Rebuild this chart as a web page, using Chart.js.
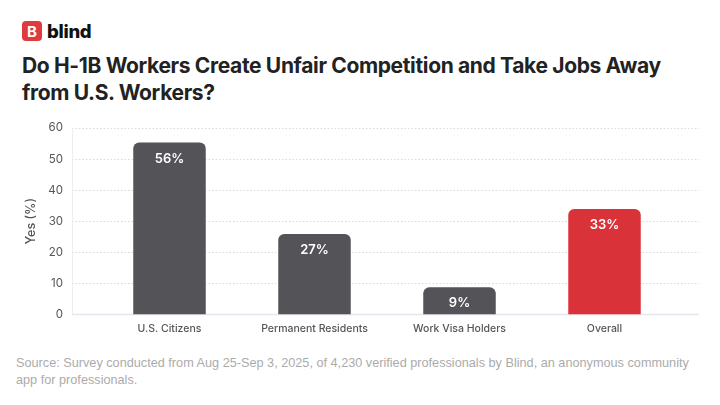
<!DOCTYPE html>
<html lang="en">
<head>
<meta charset="UTF-8">
<title>H-1B survey</title>
<style>
    body { margin: 0; background: #fff; width: 720px; height: 405px; overflow: hidden; position: relative; font-family: Inter, "Noto Sans", sans-serif; }
    .logo { position: absolute; left: 22px; top: 21px; height: 20px; display: flex; align-items: center; }
    .logo .icon { width: 20px; height: 20px; border-radius: 4px; background: #e0393e; color: #fff; font: 700 15px Inter, sans-serif; display: flex; align-items: center; justify-content: center; }
    .logo .name { margin-left: 5px; font: 800 18.5px Inter, sans-serif; color: #111; letter-spacing: -0.3px; }
    h1 { position: absolute; left: 22px; top: 52px; margin: 0; font: 700 21px/27px Inter, sans-serif; color: #222; letter-spacing: -0.35px; width: 650px; }
    #grafico { position: absolute; left: 0; top: 110px; }
    .source { position: absolute; left: 16px; top: 355px; width: 682px; margin: 0; font: 12.7px/17px "Liberation Sans", Arial, sans-serif; color: #ababab; }
</style>
</head>
<body>
    <div class="logo"><div class="icon">B</div><div class="name">blind</div></div>
    <h1>Do H-1B Workers Create Unfair Competition and Take Jobs Away from U.S. Workers?</h1>
    <canvas id="grafico" width="720" height="235"></canvas>
    <p class="source">Source: Survey conducted from Aug 25-Sep 3, 2025, of 4,230 verified professionals by Blind, an anonymous community app for professionals.</p>

<script src="https://cdn.jsdelivr.net/npm/chart.js"></script>
<script>
    const categorias = ['U.S. Citizens', 'Permanent Residents', 'Work Visa Holders', 'Overall'];
    const valores = [55.3, 25.9, 8.7, 33.9];
    const rotulos = ['56%', '27%', '9%', '33%'];
    const cores = ['#545358', '#545358', '#545358', '#da3239'];
    const ticksY = [0, 10, 20, 30, 40, 50, 60];

    // dotted grid lines that run a bit past the bars on both sides
    const gradePlugin = {
        id: 'grade',
        beforeDatasetsDraw(chart) {
            const { ctx, chartArea, scales } = chart;
            const x0 = chartArea.left - 25;
            const x1 = chartArea.right + 22;
            ctx.save();
            ctx.strokeStyle = '#dadada';
            ctx.lineWidth = 1;
            ctx.setLineDash([1.5, 2]);
            ticksY.forEach(v => {
                if (v === 0) return;
                const y = Math.round(scales.y.getPixelForValue(v)) + 0.5;
                ctx.beginPath();
                ctx.moveTo(x0, y);
                ctx.lineTo(x1, y);
                ctx.stroke();
            });
            ctx.setLineDash([]);
            ctx.strokeStyle = '#ececf2';
            ctx.beginPath();
            ctx.moveTo(x0 + 0.5, scales.y.getPixelForValue(60));
            ctx.lineTo(x0 + 0.5, scales.y.getPixelForValue(0));
            ctx.stroke();
            ctx.lineWidth = 1.5;
            ctx.strokeStyle = '#e6e6ef';
            const yb = scales.y.getPixelForValue(0);
            ctx.beginPath();
            ctx.moveTo(x0, yb);
            ctx.lineTo(x1, yb);
            ctx.stroke();
            ctx.restore();
        }
    };

    const rotuloPlugin = {
        id: 'rotulos',
        afterDatasetsDraw(chart) {
            const { ctx } = chart;
            const meta = chart.getDatasetMeta(0);
            ctx.save();
            ctx.fillStyle = '#fff';
            ctx.font = '600 13px Inter, sans-serif';
            ctx.textAlign = 'center';
            ctx.textBaseline = 'middle';
            meta.data.forEach((bar, i) => {
                ctx.fillText(rotulos[i], bar.x, bar.y + 16);
            });
            ctx.restore();
        }
    };

    new Chart(document.getElementById('grafico'), {
        type: 'bar',
        data: {
            labels: categorias,
            datasets: [{
                data: valores,
                backgroundColor: cores,
                borderRadius: { topLeft: 6, topRight: 6 },
                borderSkipped: 'bottom',
                barPercentage: 0.5,
                categoryPercentage: 1
            }]
        },
        options: {
            responsive: false,
            animation: false,
            layout: { padding: { top: 18, right: 43, bottom: 1, left: 20 } },
            plugins: {
                legend: { display: false },
                tooltip: { enabled: false }
            },
            scales: {
                x: {
                    grid: { display: false, drawTicks: false },
                    border: { display: false },
                    ticks: { color: '#555', padding: 8.5, font: { family: 'Inter', size: 10.5, weight: '500' } }
                },
                y: {
                    min: 0,
                    max: 60,
                    afterFit(scale) { scale.width = 77; },
                    grid: { display: false, drawTicks: true, tickLength: 30 },
                    border: { display: false },
                    ticks: { stepSize: 10, color: '#555', padding: 4, font: { family: 'Inter', size: 11.5 } },
                    title: { display: true, text: 'Yes (%)', color: '#555', font: { family: 'Inter', size: 12.5, weight: '500' }, padding: { top: 4, bottom: 4 } }
                }
            }
        },
        plugins: [gradePlugin, rotuloPlugin]
    });
</script>
</body>
</html>
